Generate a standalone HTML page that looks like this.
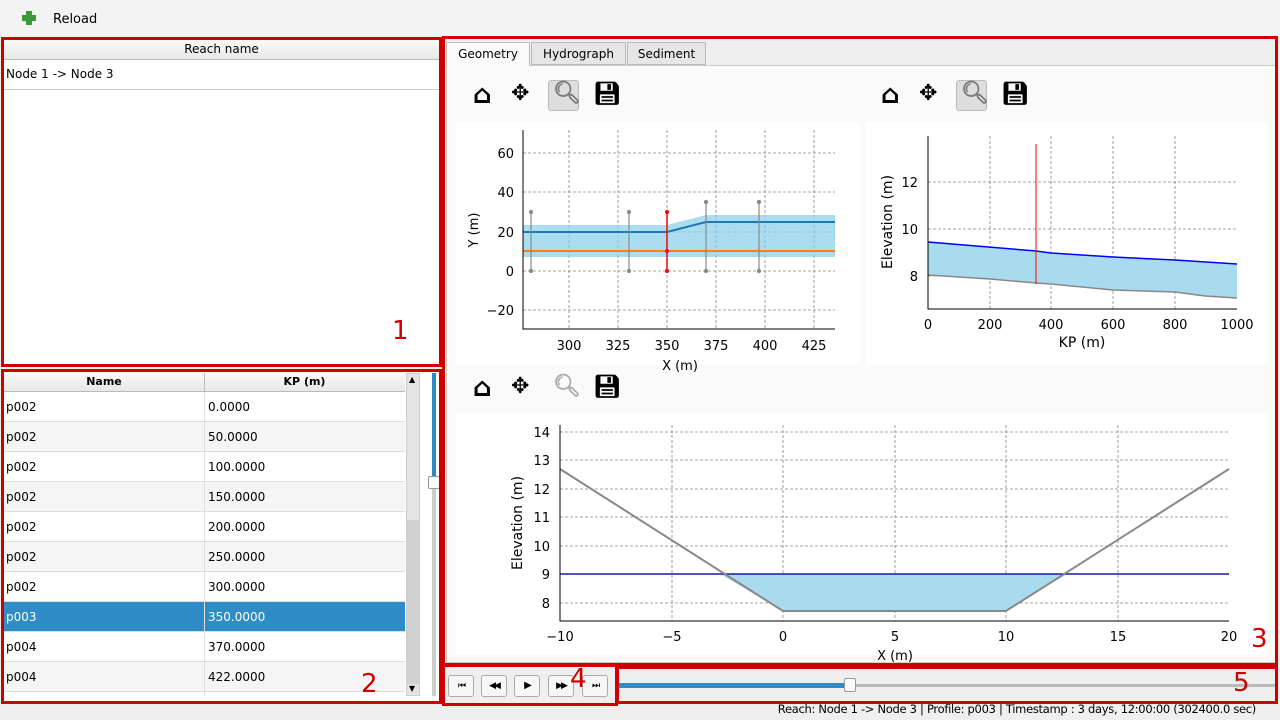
<!DOCTYPE html>
<html><head><meta charset="utf-8"><style>
*{box-sizing:border-box;margin:0;padding:0}
body{width:1280px;height:720px;background:#efefef;font-family:"DejaVu Sans","Liberation Sans",sans-serif;font-size:12px;color:#000;position:relative;overflow:hidden}
.a{position:absolute}
.red{position:absolute;border:3px solid #d00000}
.row{position:absolute;left:4px;width:401px;height:30px;border-bottom:1px solid #ddd;font-size:12px}
.row span{position:absolute;top:8px}
.btn{position:absolute;top:675px;width:26px;height:22px;border:1px solid #aaa;border-radius:3px;background:#f7f7f7;font-size:9px;text-align:center;line-height:20px;letter-spacing:-2px}
.tb{position:absolute;font-size:22px;font-weight:bold}
</style></head><body>
<div class="a" style="left:0;top:0;width:1280px;height:38px;background:#f3f3f3"></div>
<div class="a" style="left:22px;top:11px;width:14px;height:14px;"><div class="a" style="left:4px;top:0;width:6px;height:14px;background:#3a9a3a"></div><div class="a" style="left:0;top:4px;width:14px;height:6px;background:#3a9a3a"></div></div>
<div class="a" style="left:53px;top:12px;font-size:13px">Reload</div>

<!-- panel 1 -->
<div class="a" style="left:3px;top:39px;width:437px;height:326px;background:#fff"></div>
<div class="a" style="left:3px;top:39px;width:437px;height:21px;background:linear-gradient(#fafafa,#e8e8e8);border-bottom:1px solid #bbb;text-align:center;line-height:21px">Reach name</div>
<div class="a" style="left:6px;top:67px;font-size:12px">Node 1 -&gt; Node 3</div>
<div class="a" style="left:3px;top:89px;width:437px;height:1px;background:#ccc"></div>
<div class="red" style="left:1px;top:37px;width:441px;height:330px"></div>
<div class="a" style="left:392px;top:316px;font-size:26px;color:#d00000">1</div>

<!-- panel 2 -->
<div class="a" style="left:3px;top:371px;width:437px;height:331px;background:#fff"></div>
<div class="a" style="left:4px;top:373px;width:401px;height:19px;background:linear-gradient(#fafafa,#e8e8e8);border-bottom:1px solid #bbb;font-weight:bold;font-size:11px">
<div class="a" style="left:0;width:200px;text-align:center;top:2px">Name</div><div class="a" style="left:200px;width:1px;height:19px;background:#bbb"></div><div class="a" style="left:200px;width:201px;text-align:center;top:2px">KP (m)</div></div>
<div class="row" style="top:392px;background:#fff"><span style="left:2px">p002</span><span style="left:204px">0.0000</span></div>
<div class="row" style="top:422px;background:#f5f5f5"><span style="left:2px">p002</span><span style="left:204px">50.0000</span></div>
<div class="row" style="top:452px;background:#fff"><span style="left:2px">p002</span><span style="left:204px">100.0000</span></div>
<div class="row" style="top:482px;background:#f5f5f5"><span style="left:2px">p002</span><span style="left:204px">150.0000</span></div>
<div class="row" style="top:512px;background:#fff"><span style="left:2px">p002</span><span style="left:204px">200.0000</span></div>
<div class="row" style="top:542px;background:#f5f5f5"><span style="left:2px">p002</span><span style="left:204px">250.0000</span></div>
<div class="row" style="top:572px;background:#fff"><span style="left:2px">p002</span><span style="left:204px">300.0000</span></div>
<div class="row" style="top:602px;background:#308cc6;color:#fff"><span style="left:2px">p003</span><span style="left:204px">350.0000</span></div>
<div class="row" style="top:632px;background:#fff"><span style="left:2px">p004</span><span style="left:204px">370.0000</span></div>
<div class="row" style="top:662px;background:#f5f5f5"><span style="left:2px">p004</span><span style="left:204px">422.0000</span></div>
<div class="a" style="left:204px;top:392px;width:1px;height:304px;background:#ddd"></div>
<div class="a" style="left:406px;top:373px;width:14px;height:323px;background:#e4e4e4;border:1px solid #ccc"></div>
<div class="a" style="left:407px;top:520px;width:12px;height:164px;background:#d2d2d2"></div>
<div class="a" style="left:409px;top:375px;font-size:8px">▲</div><div class="a" style="left:409px;top:684px;font-size:8px">▼</div>
<div class="a" style="left:432px;top:373px;width:4px;height:106px;background:#308cc6"></div>
<div class="a" style="left:432px;top:479px;width:4px;height:217px;background:#ccc"></div>
<div class="a" style="left:428px;top:476px;width:12px;height:13px;background:#fafafa;border:1px solid #999;border-radius:2px"></div>
<div class="red" style="left:1px;top:369px;width:441px;height:335px"></div>
<div class="a" style="left:361px;top:669px;font-size:26px;color:#d00000">2</div>

<!-- panel 3 -->
<div class="a" style="left:446px;top:65px;width:830px;height:598px;background:#fafafa;border:1px solid #ccc"></div>
<div class="a" style="left:446px;top:42px;width:84px;height:24px;background:#fafafa;border:1px solid #bbb;border-bottom:none;text-align:center;line-height:23px">Geometry</div>
<div class="a" style="left:531px;top:42px;width:95px;height:23px;background:#e6e6e6;border:1px solid #bbb;text-align:center;line-height:22px">Hydrograph</div>
<div class="a" style="left:627px;top:42px;width:79px;height:23px;background:#e6e6e6;border:1px solid #bbb;text-align:center;line-height:22px">Sediment</div>

<div class="a" style="left:548px;top:80px;width:31px;height:31px;background:#ddd;border:1px solid #bbb;border-radius:3px"></div>
<div class="a" style="left:956px;top:80px;width:31px;height:31px;background:#ddd;border:1px solid #bbb;border-radius:3px"></div>
<div class="tb" style="left:473px;top:80px;font-size:26px">⌂</div><div class="tb" style="left:511px;top:81px">✥</div><div class="tb" style="left:553px;top:81px;color:#777">🔍︎</div><div class="tb" style="left:593px;top:82px">💾︎</div>
<div class="tb" style="left:881px;top:80px;font-size:26px">⌂</div><div class="tb" style="left:919px;top:81px">✥</div><div class="tb" style="left:961px;top:81px;color:#777">🔍︎</div><div class="tb" style="left:1001px;top:82px">💾︎</div>
<div class="tb" style="left:473px;top:373px;font-size:26px">⌂</div><div class="tb" style="left:511px;top:374px">✥</div><div class="tb" style="left:553px;top:374px;color:#aaa">🔍︎</div><div class="tb" style="left:593px;top:375px">💾︎</div>

<svg class="a" style="left:0;top:0" width="1280" height="720" font-family="DejaVu Sans, Liberation Sans, sans-serif" font-size="13">
<rect x="456" y="122" width="404" height="243" fill="#fff"/>
<rect x="866" y="122" width="402" height="243" fill="#fff"/>
<rect x="456" y="413" width="812" height="242" fill="#fff"/>
<!-- chart 1 -->
<g stroke="#888" stroke-dasharray="3,2" stroke-width="0.8">
<line x1="569" y1="130" x2="569" y2="329"/><line x1="618" y1="130" x2="618" y2="329"/><line x1="667" y1="130" x2="667" y2="329"/><line x1="716" y1="130" x2="716" y2="329"/><line x1="765" y1="130" x2="765" y2="329"/><line x1="814" y1="130" x2="814" y2="329"/>
<line x1="523" y1="153" x2="835" y2="153"/><line x1="523" y1="192" x2="835" y2="192"/><line x1="523" y1="232" x2="835" y2="232"/><line x1="523" y1="271" x2="835" y2="271"/><line x1="523" y1="310" x2="835" y2="310"/>
</g>
<polygon points="523,225 667,225 706,215 835,215 835,257 523,257" fill="#87ceeb" opacity="0.7"/>
<polyline points="523,232 667,232 706,222 835,222" fill="none" stroke="#1f77b4" stroke-width="2"/>
<line x1="523" y1="251" x2="835" y2="251" stroke="#ff7f0e" stroke-width="2"/>
<g stroke="#888" stroke-width="1.2" fill="#888"><line x1="531" y1="212" x2="531" y2="271"/><line x1="629" y1="212" x2="629" y2="271"/><line x1="706" y1="202" x2="706" y2="271"/><line x1="759" y1="202" x2="759" y2="271"/>
<circle cx="531" cy="212" r="1.5"/><circle cx="531" cy="271" r="1.5"/><circle cx="629" cy="212" r="1.5"/><circle cx="629" cy="271" r="1.5"/><circle cx="706" cy="202" r="1.5"/><circle cx="706" cy="271" r="1.5"/><circle cx="759" cy="202" r="1.5"/><circle cx="759" cy="271" r="1.5"/></g>
<line x1="667" y1="212" x2="667" y2="271" stroke="red" stroke-width="1.5"/><circle cx="667" cy="212" r="2" fill="red"/><circle cx="667" cy="271" r="2" fill="red"/><circle cx="667" cy="251" r="2" fill="red"/>
<polyline points="523,130 523,329 835,329" fill="none" stroke="#000"/>
<g text-anchor="end"><text x="514" y="158">60</text><text x="514" y="197">40</text><text x="514" y="237">20</text><text x="514" y="276">0</text><text x="514" y="315">−20</text></g>
<g text-anchor="middle"><text x="569" y="350">300</text><text x="618" y="350">325</text><text x="667" y="350">350</text><text x="716" y="350">375</text><text x="765" y="350">400</text><text x="814" y="350">425</text><text x="680" y="370">X (m)</text></g>
<text transform="translate(478,230) rotate(-90)" text-anchor="middle">Y (m)</text>
<!-- chart 2 -->
<g stroke="#888" stroke-dasharray="3,2" stroke-width="0.8">
<line x1="990" y1="136" x2="990" y2="309"/><line x1="1051" y1="136" x2="1051" y2="309"/><line x1="1113" y1="136" x2="1113" y2="309"/><line x1="1175" y1="136" x2="1175" y2="309"/>
<line x1="928" y1="182" x2="1237" y2="182"/><line x1="928" y1="229" x2="1237" y2="229"/><line x1="928" y1="276" x2="1237" y2="276"/>
</g>
<polygon points="928,242 1036,251 1051,253 1113,257 1175,260 1237,264 1237,298 1205,296 1175,292 1113,290 1051,284 1036,283 990,279 928,275" fill="#a8dbee"/>
<polyline points="928,242 1036,251 1051,253 1113,257 1175,260 1237,264" fill="none" stroke="blue" stroke-width="1.5"/>
<polyline points="928,275 990,279 1036,283 1051,284 1113,290 1175,292 1205,296 1237,298" fill="none" stroke="#888" stroke-width="1.5"/>
<line x1="1036" y1="144" x2="1036" y2="284" stroke="red"/>
<polyline points="928,136 928,309 1237,309" fill="none" stroke="#000"/>
<g text-anchor="end"><text x="918" y="187">12</text><text x="918" y="234">10</text><text x="918" y="281">8</text></g>
<g text-anchor="middle"><text x="928" y="329">0</text><text x="990" y="329">200</text><text x="1051" y="329">400</text><text x="1113" y="329">600</text><text x="1175" y="329">800</text><text x="1237" y="329">1000</text><text x="1082" y="347" font-size="14">KP (m)</text></g>
<text transform="translate(892,222) rotate(-90)" text-anchor="middle" font-size="14">Elevation (m)</text>
<!-- chart 3 -->
<g stroke="#888" stroke-dasharray="3,2" stroke-width="0.8">
<line x1="672" y1="425" x2="672" y2="621"/><line x1="783" y1="425" x2="783" y2="621"/><line x1="895" y1="425" x2="895" y2="621"/><line x1="1006" y1="425" x2="1006" y2="621"/><line x1="1118" y1="425" x2="1118" y2="621"/>
<line x1="560" y1="432" x2="1229" y2="432"/><line x1="560" y1="460" x2="1229" y2="460"/><line x1="560" y1="489" x2="1229" y2="489"/><line x1="560" y1="517" x2="1229" y2="517"/><line x1="560" y1="546" x2="1229" y2="546"/><line x1="560" y1="574" x2="1229" y2="574"/><line x1="560" y1="603" x2="1229" y2="603"/>
</g>
<polygon points="720,574 1067,574 1006,611 783,611" fill="#a8dbee"/>
<line x1="560" y1="574" x2="1229" y2="574" stroke="#1a1aa0" stroke-width="1.5"/>
<polyline points="560,469 783,611 1006,611 1229,469" fill="none" stroke="#888" stroke-width="2"/>
<polyline points="560,425 560,621 1229,621" fill="none" stroke="#000"/>
<g text-anchor="end"><text x="550" y="437">14</text><text x="550" y="465">13</text><text x="550" y="494">12</text><text x="550" y="522">11</text><text x="550" y="551">10</text><text x="550" y="579">9</text><text x="550" y="608">8</text></g>
<g text-anchor="middle"><text x="560" y="641">−10</text><text x="672" y="641">−5</text><text x="783" y="641">0</text><text x="895" y="641">5</text><text x="1006" y="641">10</text><text x="1118" y="641">15</text><text x="1229" y="641">20</text><text x="895" y="660">X (m)</text></g>
<text transform="translate(522,523) rotate(-90)" text-anchor="middle" font-size="14">Elevation (m)</text>
</svg>
<div class="red" style="left:442px;top:36px;width:836px;height:630px"></div>
<div class="a" style="left:1251px;top:624px;font-size:26px;color:#d00000">3</div>

<!-- bottom controls -->
<div class="btn" style="left:448px">⏮</div><div class="btn" style="left:481px">◀◀</div><div class="btn" style="left:514px;font-size:10px">▶</div><div class="btn" style="left:548px">▶▶</div><div class="btn" style="left:582px">⏭</div>
<div class="a" style="left:618px;top:683px;width:232px;height:5px;background:#308cc6;border-radius:2px"></div>
<div class="a" style="left:850px;top:684px;width:428px;height:3px;background:#bbb"></div>
<div class="a" style="left:844px;top:678px;width:12px;height:14px;background:#fafafa;border:1px solid #999;border-radius:2px"></div>
<div class="red" style="left:442px;top:664px;width:176px;height:42px"></div>
<div class="red" style="left:616px;top:666px;width:662px;height:38px"></div>
<div class="a" style="left:570px;top:664px;font-size:26px;color:#d00000">4</div>
<div class="a" style="left:1233px;top:668px;font-size:26px;color:#d00000">5</div>
<div class="a" style="right:24px;top:702px;font-size:11.5px;letter-spacing:-0.3px">Reach: Node 1 -&gt; Node 3 | Profile: p003 | Timestamp : 3 days, 12:00:00 (302400.0 sec)</div>
</body></html>
